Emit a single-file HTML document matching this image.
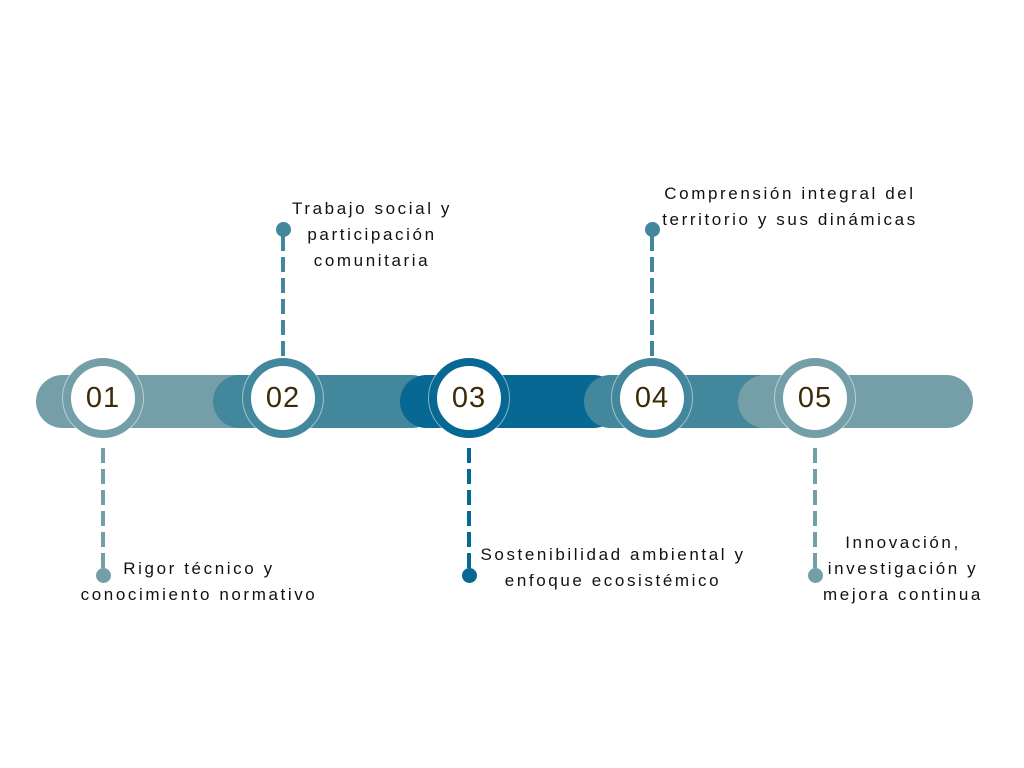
<!DOCTYPE html>
<html><head><meta charset="utf-8"><style>
body{margin:0;width:1024px;height:768px;background:#fff;position:relative;overflow:hidden;font-family:"Liberation Sans",sans-serif}
.bar{position:absolute;top:375px;height:53px;border-radius:27px}
.c{position:absolute;width:64px;height:64px;border-radius:50%;background:#fff;border:8px solid;top:358px;display:flex;align-items:center;justify-content:center;font-size:29px;color:#3d2b08;letter-spacing:1px;box-shadow:0 0 0 1px rgba(255,255,255,.5)}
.d{position:absolute;width:4px;background:repeating-linear-gradient(to bottom,var(--k) 0 15px,transparent 15px 21px)}
.dot{position:absolute;width:15px;height:15px;border-radius:50%}
.t{position:absolute;text-align:center;font-size:17px;line-height:26px;letter-spacing:2.6px;color:#111;white-space:nowrap;transform:translateX(-50%)}
</style></head><body>
<div class="bar" style="left:36px;width:230px;background:#759fa8"></div>
<div class="bar" style="left:213px;width:225px;background:#42879b"></div>
<div class="bar" style="left:400px;width:220px;background:#076893"></div>
<div class="bar" style="left:584px;width:220px;background:#42879b"></div>
<div class="bar" style="left:738px;width:235px;background:#759fa8"></div>

<div class="d" style="--k:#759fa8;left:101px;top:448px;height:122px"></div>
<div class="dot" style="left:96px;top:568px;background:#759fa8"></div>
<div class="d" style="--k:#42879b;left:281px;top:236px;height:122px"></div>
<div class="dot" style="left:276px;top:222px;background:#42879b"></div>
<div class="d" style="--k:#076893;left:467px;top:448px;height:122px"></div>
<div class="dot" style="left:462px;top:568px;background:#076893"></div>
<div class="d" style="--k:#42879b;left:650px;top:236px;height:122px"></div>
<div class="dot" style="left:645px;top:222px;background:#42879b"></div>
<div class="d" style="--k:#759fa8;left:813px;top:448px;height:122px"></div>
<div class="dot" style="left:808px;top:568px;background:#759fa8"></div>

<div class="c" style="left:63px;border-color:#759fa8">01</div>
<div class="c" style="left:243px;border-color:#42879b">02</div>
<div class="c" style="left:429px;border-color:#076893">03</div>
<div class="c" style="left:612px;border-color:#42879b">04</div>
<div class="c" style="left:775px;border-color:#759fa8">05</div>

<div class="t" style="left:199px;top:556px">Rigor técnico y<br>conocimiento normativo</div>
<div class="t" style="left:372px;top:196px">Trabajo social y<br>participación<br>comunitaria</div>
<div class="t" style="left:613px;top:542px">Sostenibilidad ambiental y<br>enfoque ecosistémico</div>
<div class="t" style="left:790px;top:181px">Comprensión integral del<br>territorio y sus dinámicas</div>
<div class="t" style="left:903px;top:530px">Innovación,<br>investigación y<br>mejora continua</div>
</body></html>
